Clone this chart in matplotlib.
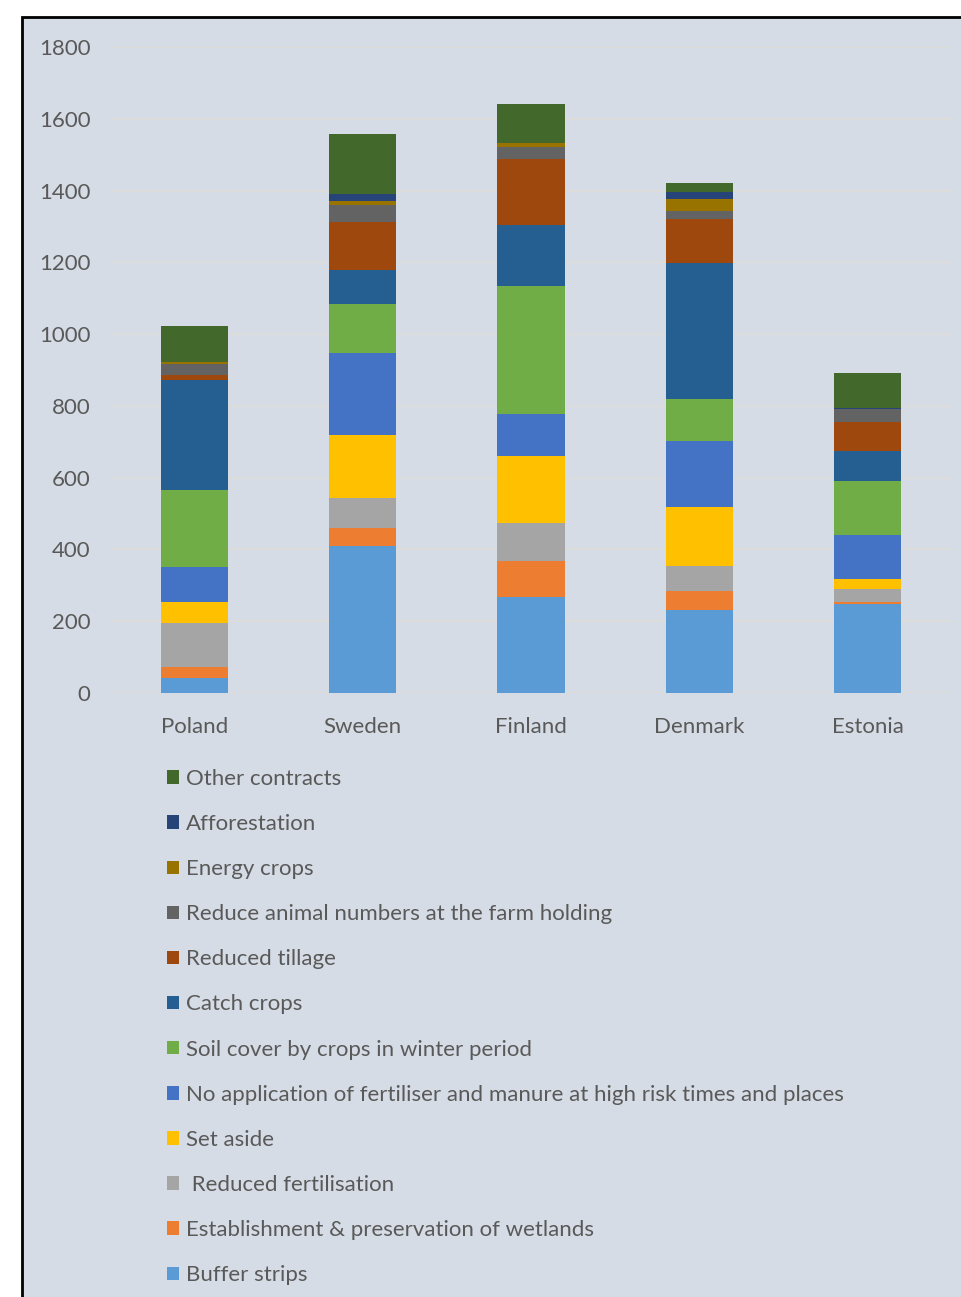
import numpy as np
import matplotlib
matplotlib.use("Agg")
import matplotlib.pyplot as plt
from matplotlib.patches import Rectangle

# countries on the x axis
countries = ["Poland", "Sweden", "Finland", "Denmark", "Estonia"]

# stacked series, bottom to top (values per country)
buffer_strips = [41, 410, 268, 231, 247]
wetlands = [32, 50, 100, 54, 6]
reduced_fert = [122, 83, 105, 68, 37]
set_aside = [58, 175, 186, 165, 28]
no_application = [99, 228, 118, 185, 121]
soil_cover = [215, 137, 356, 115, 153]
catch_crops = [304, 95, 170, 381, 82]
reduced_tillage = [14, 133, 184, 121, 82]
reduce_animal = [33, 48, 35, 23, 34]
energy_crops = [3, 13, 11, 34, 0]
afforestation = [0, 18, 0, 19, 5]
other_contracts = [102, 168, 107, 25, 96]

series = [
    ("Buffer strips", buffer_strips, "#5b9bd5"),
    ("Establishment & preservation of wetlands", wetlands, "#ed7d31"),
    (" Reduced fertilisation", reduced_fert, "#a5a5a5"),
    ("Set aside", set_aside, "#ffc000"),
    ("No application of fertiliser and manure at high risk times and places", no_application, "#4472c4"),
    ("Soil cover by crops in winter period", soil_cover, "#70ad47"),
    ("Catch crops", catch_crops, "#255e91"),
    ("Reduced tillage", reduced_tillage, "#9e480e"),
    ("Reduce animal numbers at the farm holding", reduce_animal, "#636363"),
    ("Energy crops", energy_crops, "#997300"),
    ("Afforestation", afforestation, "#264478"),
    ("Other contracts", other_contracts, "#43682b"),
]

bg = "#d6dce5"
txt = "#595959"
fs = 16
plt.rcParams["font.family"] = ["Lato", "DejaVu Sans"]

fig = plt.figure(figsize=(9.61, 12.97), dpi=100, facecolor="white")

# framed background panel (behind everything)
frame = Rectangle((22 / 961, -0.01), 1.0, 1 - 17 / 1297 + 0.01, transform=fig.transFigure,
                  facecolor=bg, edgecolor="black", linewidth=2, zorder=-5)
fig.patches.append(frame)

ax = fig.add_axes([110 / 961, 1 - 693 / 1297, 842 / 961, 646 / 1297])
ax.set_facecolor("none")
ax.set_zorder(2)

x = np.arange(len(countries))
bottom = np.zeros(len(countries))
handles = []
for name, vals, col in series:
    b = ax.bar(x, vals, width=0.4, bottom=bottom, color=col, label=name, zorder=3)
    handles.append(b)
    bottom += np.array(vals)

ax.set_xlim(-0.5, 4.5)
ax.set_ylim(0, 1800)
ax.set_yticks(range(0, 1801, 200))
ax.set_xticks(x)
ax.set_xticklabels(countries)
ax.grid(axis="y", color="#dedcd8", linewidth=1.2, zorder=1)
ax.tick_params(axis="both", length=0, labelsize=fs, labelcolor=txt)
ax.tick_params(axis="y", pad=14)
ax.tick_params(axis="x", pad=17)
for s in ax.spines.values():
    s.set_visible(False)

# legend, top entry first
leg = fig.legend(handles[::-1], [s[0] for s in series][::-1],
                 loc="upper left", bbox_to_anchor=(158 / 961, 1 - 760 / 1297),
                 frameon=False, fontsize=fs, labelcolor=txt,
                 handlelength=0.55, handleheight=0.55, handletextpad=0.3,
                 labelspacing=1.13, borderaxespad=0)
leg.set_zorder(3)

fig.savefig("out.png", dpi=100, facecolor="white")
